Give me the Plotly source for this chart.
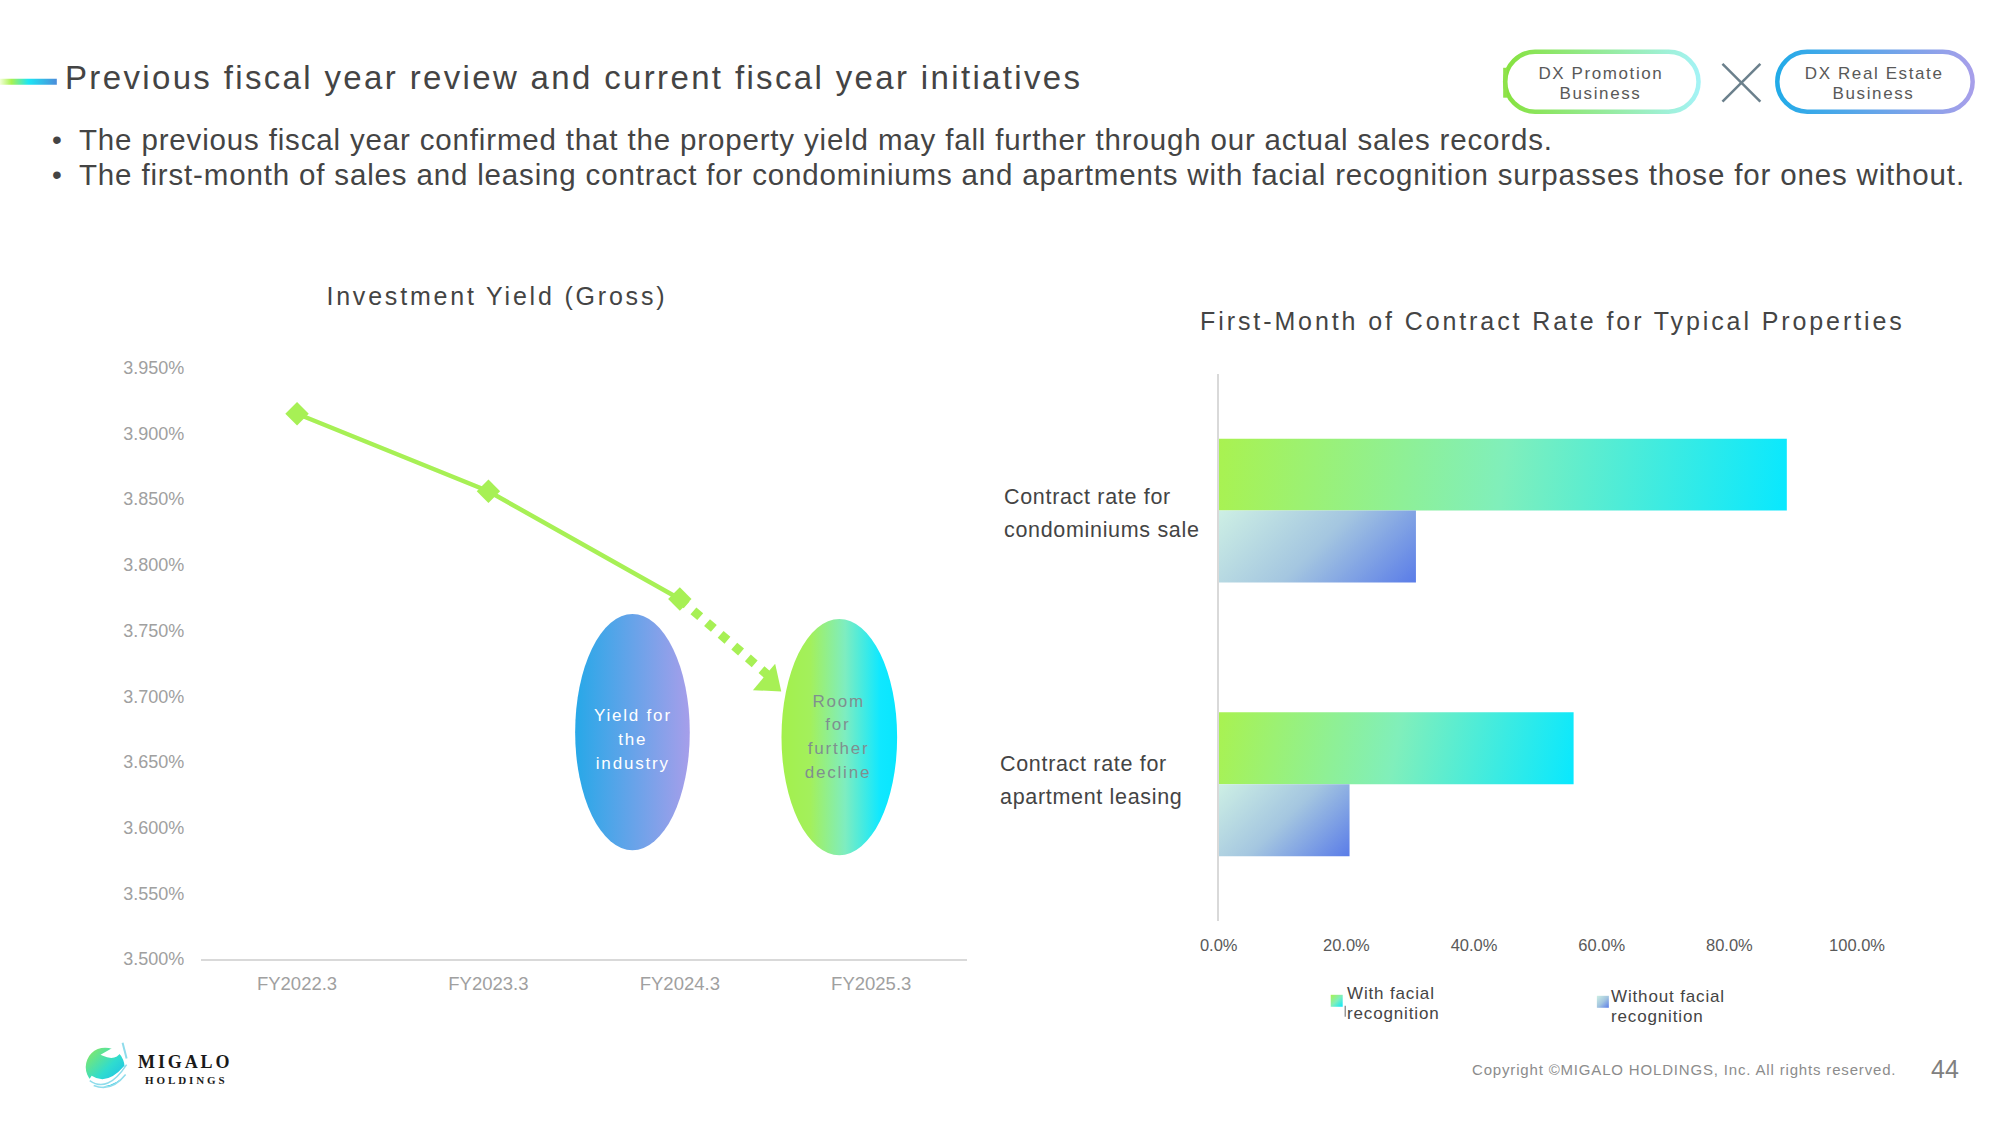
import json
import plotly.graph_objects as go

# ---------- data ----------
FISCAL_YEARS = ["FY2022.3", "FY2023.3", "FY2024.3", "FY2025.3"]
YIELD_VALUES = [3.915, 3.856, 3.774]
PROJECTION_X = [2, 2.46]
PROJECTION_Y = [3.774, 3.716]
ARROW_X = [2.47]
ARROW_Y = [3.711]
YIELD_TICKS = [3.50, 3.55, 3.60, 3.65, 3.70, 3.75, 3.80, 3.85, 3.90, 3.95]
YIELD_LABELS = ["3.500%", "3.550%", "3.600%", "3.650%", "3.700%", "3.750%", "3.800%", "3.850%", "3.900%", "3.950%"]

CONTRACT_CATS = ["Condominium sale", "Apartment leasing"]
WITH_FACIAL = [0.890, 0.556]
WITHOUT_FACIAL = [0.309, 0.205]
RATE_TICKS = [0, 0.2, 0.4, 0.6, 0.8, 1.0]
RATE_LABELS = ["0.0%", "20.0%", "40.0%", "60.0%", "80.0%", "100.0%"]

W, H = 2000, 1125
GREEN = "#A7F055"
DARK = "#444444"
FONT = "Liberation Sans"
K = 0.9968


def px(x):
    return x * K / W


def py(y):
    return 1 - y * K / H


annotations, shapes = [], []
spacing = {}     # annotation index -> letter spacing (px)
grad_fill = {}   # shape index -> gradient id
grad_line = {}   # shape index -> gradient id


def text(x, y, s, size, color=DARK, anchor="left", ls=0, family=FONT, bold=False):
    t = f"<b>{s}</b>" if bold else s
    spacing[len(annotations)] = ls
    annotations.append(dict(x=px(x), y=py(y), xref="paper", yref="paper", text=t, showarrow=False,
                            xanchor=anchor, yanchor="middle", align=anchor,
                            font=dict(size=size, color=color, family=family), borderpad=0, borderwidth=0))


def rect(x0, y0, x1, y1, fill=None, grad=None):
    if grad:
        grad_fill[len(shapes)] = grad
    shapes.append(dict(type="rect", xref="paper", yref="paper", x0=px(x0), x1=px(x1), y0=py(y0), y1=py(y1),
                       fillcolor=fill or "#888888", line=dict(width=0)))


def ellipse(x0, y0, x1, y1, grad=None, fill="#888888"):
    if grad:
        grad_fill[len(shapes)] = grad
    shapes.append(dict(type="circle", xref="paper", yref="paper", x0=px(x0), x1=px(x1), y0=py(y0), y1=py(y1),
                       fillcolor=fill, line=dict(width=0)))


def line(x0, y0, x1, y1, color, width):
    shapes.append(dict(type="line", xref="paper", yref="paper", x0=px(x0), x1=px(x1), y0=py(y0), y1=py(y1),
                       line=dict(color=color, width=width)))


def pill(x0, y0, x1, y1, grad, width=4.5):
    r = (y1 - y0) / 2
    k = 0.5523 * r
    def P(a, b):
        return f"{px(a):.5f},{py(b):.5f}"
    d = (f"M{P(x0 + r, y0)} L{P(x1 - r, y0)} C{P(x1 - r + k, y0)} {P(x1, y0 + r - k)} {P(x1, y0 + r)} "
         f"C{P(x1, y0 + r + k)} {P(x1 - r + k, y1)} {P(x1 - r, y1)} L{P(x0 + r, y1)} "
         f"C{P(x0 + r - k, y1)} {P(x0, y0 + r + k)} {P(x0, y0 + r)} C{P(x0, y0 + r - k)} {P(x0 + r - k, y0)} {P(x0 + r, y0)} Z")
    grad_line[len(shapes)] = grad
    shapes.append(dict(type="path", xref="paper", yref="paper", path=d, fillcolor="rgba(0,0,0,0)",
                       line=dict(color="#888888", width=width)))


def curve(pts, color, width, fill="rgba(0,0,0,0)", close=False):
    d = f"M{px(pts[0][0]):.5f},{py(pts[0][1]):.5f} Q{px(pts[1][0]):.5f},{py(pts[1][1]):.5f} {px(pts[2][0]):.5f},{py(pts[2][1]):.5f}"
    if close:
        d += " Z"
    shapes.append(dict(type="path", xref="paper", yref="paper", path=d, fillcolor=fill,
                       line=dict(color=color, width=width)))


# ---------- header ----------
rect(0, 79, 57, 85, grad="gAccent")
text(65, 78, "Previous fiscal year review and current fiscal year initiatives", 33, ls=2.35)
text(52, 140, "•", 28)
text(79, 140, "The previous fiscal year confirmed that the property yield may fall further through our actual sales records.", 29.5, ls=0.84)
text(52, 175, "•", 28)
text(79, 175, "The first-month of sales and leasing contract for condominiums and apartments with facial recognition surpasses those for ones without.", 29.5, ls=0.84)

pill(1510, 52, 1704, 112, "gPillL")
line(1510, 68, 1510, 98, "#8FE24A", 4)
text(1606, 74, "DX Promotion", 17, "#595959", "center", ls=1.6)
text(1606, 94, "Business", 17, "#595959", "center", ls=1.6)
line(1728, 64, 1766, 102, "#6B808C", 2.5)
line(1728, 102, 1766, 64, "#6B808C", 2.5)
pill(1783, 52, 1979, 112, "gPillR")
text(1880, 74, "DX Real Estate", 17, "#595959", "center", ls=1.6)
text(1880, 94, "Business", 17, "#595959", "center", ls=1.6)

# ---------- chart titles ----------
text(499, 297, "Investment Yield (Gross)", 25, DARK, "center", ls=2.8)
text(1557, 322, "First-Month of Contract Rate for Typical Properties", 25, DARK, "center", ls=2.9)

# ---------- ellipses ----------
ellipse(577, 616, 692, 853, grad="gBlue")
text(635, 718, "Yield for", 17, "#FFFFFF", "center", ls=1.8)
text(635, 742, "the", 17, "#FFFFFF", "center", ls=1.8)
text(635, 766, "industry", 17, "#FFFFFF", "center", ls=1.8)
ellipse(784, 621, 900, 858, grad="gGreen")
for i, s in enumerate(["Room", "for", "further", "decline"]):
    text(841, [704, 727, 751, 775][i], s, 17, "#7F8F8F", "center", ls=1.8)

# ---------- category labels ----------
for x, y, s in [(1007, 499, "Contract rate for"), (1007, 532, "condominiums sale"),
                (1003, 766, "Contract rate for"), (1003, 800, "apartment leasing")]:
    text(x, y, s, 21.5, DARK, ls=0.68)

# ---------- legend ----------
rect(1335, 998, 1347, 1010, grad="gLegendA")
line(1349.5, 1009, 1349.5, 1020, "#666666", 1)
text(1351, 997, "With facial", 17, DARK, ls=0.85)
text(1351, 1017, "recognition", 17, DARK, ls=0.85)
rect(1602, 999, 1614, 1011, grad="gLegendB")
text(1616, 1000, "Without facial", 17, DARK, ls=0.85)
text(1616, 1020, "recognition", 17, DARK, ls=0.85)

# ---------- footer ----------
text(1477, 1073, "Copyright ©MIGALO HOLDINGS, Inc. All rights reserved.", 15, "#8C8C8C", ls=0.83)
text(1937, 1072, "44", 25, "#808080")

# ---------- logo ----------
ellipse(86, 1051, 125, 1090, grad="gLogo")
curve([(90, 1082), (108, 1094), (127, 1072)], "#FFFFFF", 7)
curve([(90, 1084), (108, 1097), (127, 1068)], "#8FDCEB", 1.5)
curve([(94, 1089), (112, 1096), (126, 1078)], "#8FDCEB", 1.5)
curve([(103, 1058), (120, 1066), (124, 1046)], "#FFFFFF", 2, fill="#FFFFFF", close=True)
line(123, 1046, 127, 1062, "#8FDCEB", 2)
text(138, 1065, "MIGALO", 18, "#1A1A1A", ls=2.9, family="Liberation Serif", bold=True)
text(145, 1083, "HOLDINGS", 11, "#1A1A1A", ls=2.9, family="Liberation Serif", bold=True)

# ---------- figure ----------
fig = go.Figure()

# left chart
fig.add_trace(go.Scatter(x=PROJECTION_X, y=PROJECTION_Y, mode="lines", xaxis="x", yaxis="y",
                         line=dict(color=GREEN, width=9, dash="9px,9px"), hoverinfo="skip"))
fig.add_trace(go.Scatter(x=list(range(len(YIELD_VALUES))), y=YIELD_VALUES, mode="lines+markers", xaxis="x", yaxis="y",
                         line=dict(color=GREEN, width=4.5),
                         marker=dict(symbol="diamond", size=18, color=GREEN), name="Investment Yield"))
fig.add_trace(go.Scatter(x=ARROW_X, y=ARROW_Y, mode="markers", xaxis="x", yaxis="y",
                         marker=dict(symbol="triangle-up", size=30, color=GREEN, angle=130), hoverinfo="skip"))

# right chart
fig.add_trace(go.Bar(y=CONTRACT_CATS, x=WITH_FACIAL, orientation="h", xaxis="x2", yaxis="y2",
                     marker=dict(color="#70EDB0", line=dict(width=0)), name="With facial recognition"))
fig.add_trace(go.Bar(y=CONTRACT_CATS, x=WITHOUT_FACIAL, orientation="h", xaxis="x2", yaxis="y2",
                     marker=dict(color="#8FB0E4", line=dict(width=0)), name="Without facial recognition"))

fig.update_layout(
    template="none",
    width=W, height=H, margin=dict(l=0, r=0, t=0, b=0, pad=0, autoexpand=False), autosize=False,
    paper_bgcolor="#FFFFFF", plot_bgcolor="#FFFFFF", showlegend=False,
    font=dict(family=FONT, color="#595959"),
    barmode="group", bargap=0.474, bargroupgap=0,
    annotations=annotations, shapes=shapes,
    xaxis=dict(domain=[px(202), px(970)], range=[-0.5, 3.5], anchor="y", automargin=False,
               tickvals=list(range(len(FISCAL_YEARS))), ticktext=FISCAL_YEARS,
               showgrid=False, zeroline=False, showline=True, linecolor="#D9D9D9", linewidth=1.5,
               ticks="", ticklabelstandoff=7, tickfont=dict(size=18.5, color="#A0A0A0", family=FONT)),
    yaxis=dict(domain=[py(962), py(369)], range=[3.5, 3.95], anchor="x", automargin=False,
               tickvals=YIELD_TICKS, ticktext=YIELD_LABELS,
               showgrid=False, zeroline=False, showline=False,
               ticks="", ticklabelstandoff=16, tickfont=dict(size=18, color="#A0A0A0", family=FONT)),
    xaxis2=dict(domain=[px(1222.6), px(1863)], range=[0, 1], anchor="y2", automargin=False,
                tickvals=RATE_TICKS, ticktext=RATE_LABELS,
                showgrid=False, zeroline=False, showline=False,
                ticks="", ticklabelstandoff=12, tickfont=dict(size=16.5, color="#595959", family=FONT)),
    yaxis2=dict(domain=[py(924), py(375)], autorange="reversed", anchor="x2", type="category", automargin=False,
                showgrid=False, zeroline=False, showline=True, linecolor="#D9D9D9", linewidth=2,
                showticklabels=False, ticks=""),
)


def stops(*pairs):
    return "".join(f'<stop offset="{o}" stop-color="{c}"/>' for o, c in pairs)


def lin(i, x2, y2, st):
    return f'<linearGradient id="{i}" x1="0" y1="0" x2="{x2}" y2="{y2}">{st}</linearGradient>'


GREEN_STOPS = stops((0, "#A9F250"), (0.5, "#80EFBB"), (1, "#08E8FF"))
BLUE_STOPS = stops((0, "#CDEFE4"), (0.5, "#A4C6E0"), (1, "#5A7CE8"))
defs = (
    lin("gAccent", 1, 0, stops((0, "#F3FFD8"), (0.2, "#A9F250"), (0.5, "#1CE6F4"), (1, "#4C8CDA")))
    + lin("gPillL", 1, 0, stops((0, "#86E23E"), (1, "#A4F3F5")))
    + lin("gPillR", 1, 0, stops((0, "#22ABE8"), (1, "#A79FEA")))
    + lin("gBlue", 1, 0, stops((0, "#27A8E8"), (1, "#A69EEA")))
    + lin("gGreen", 1, 0, stops((0, "#A3F04C"), (0.25, "#A3F05C"), (0.55, "#7EEDC0"), (0.85, "#10E8FF"), (1, "#08E6FF")))
    + lin("gLegendA", 1, 1, GREEN_STOPS)
    + lin("gLegendB", 1, 1, BLUE_STOPS)
    + lin("gLogo", 1, 1, stops((0, "#8FEA58"), (0.55, "#2FDCCF"), (1, "#18B6F0")))
)

post = """
document.documentElement.style.margin = '0';
document.body.style.margin = '0';
var gd = document.getElementById('{plot_id}');
var SP = __SPACING__, GF = __GF__, GL = __GL__, DEFS = __DEFS__, GS = __GS__, BS = __BS__;
var holder = document.createElementNS('http://www.w3.org/2000/svg', 'svg');
holder.setAttribute('width', '0'); holder.setAttribute('height', '0');
holder.style.cssText = 'position:fixed;left:0;top:0';
holder.innerHTML = '<defs id="gdefs">' + DEFS + '</defs>';
gd.appendChild(holder);
var defsEl = holder.querySelector('#gdefs');
Object.keys(GF).forEach(function(k){
  var e = gd.querySelector('.shapelayer path[data-index="' + k + '"]');
  if (e) e.style.fill = 'url(#' + GF[k] + ')', e.style.fillOpacity = 1;
});
Object.keys(GL).forEach(function(k){
  var e = gd.querySelector('.shapelayer path[data-index="' + k + '"]');
  if (e) e.style.stroke = 'url(#' + GL[k] + ')';
});
Object.keys(SP).forEach(function(k){
  if (!SP[k]) return;
  var e = gd.querySelector('.annotation[data-index="' + k + '"] text');
  if (e) e.style.letterSpacing = SP[k] + 'px';
});
function barGrad(el, id, stops, diag45){
  var b = el.getBBox();
  var x2 = b.x + (diag45 ? (b.width + b.height) / 2 : b.width);
  var y2 = b.y + (diag45 ? (b.width + b.height) / 2 : b.height);
  var g = document.createElementNS('http://www.w3.org/2000/svg', 'linearGradient');
  g.setAttribute('id', id);
  g.setAttribute('gradientUnits', 'userSpaceOnUse');
  g.setAttribute('x1', b.x); g.setAttribute('y1', b.y);
  g.setAttribute('x2', x2); g.setAttribute('y2', y2);
  stops.forEach(function(s){
    var st = document.createElementNS('http://www.w3.org/2000/svg', 'stop');
    st.setAttribute('offset', s[0]); st.setAttribute('stop-color', s[1]);
    g.appendChild(st);
  });
  defsEl.appendChild(g);
  el.style.fill = 'url(#' + id + ')';
}
var traces = gd.querySelectorAll('.barlayer .trace');
traces.forEach(function(t, i){
  t.querySelectorAll('.point path').forEach(function(p, j){
    barGrad(p, 'bar' + i + '_' + j, i === 0 ? GS : BS, i !== 0);
  });
});
"""
GS = [[0, "#A9F250"], [0.5, "#80EFBB"], [1, "#08E8FF"]]
BS = [[0, "#CDEFE4"], [0.5, "#A4C6E0"], [1, "#5A7CE8"]]
post = (post.replace("__SPACING__", json.dumps(spacing)).replace("__GF__", json.dumps(grad_fill))
        .replace("__GL__", json.dumps(grad_line)).replace("__DEFS__", json.dumps(defs))
        .replace("__GS__", json.dumps(GS)).replace("__BS__", json.dumps(BS)))

fig.write_html("out.html", post_script=post, config=dict(displayModeBar=False))
